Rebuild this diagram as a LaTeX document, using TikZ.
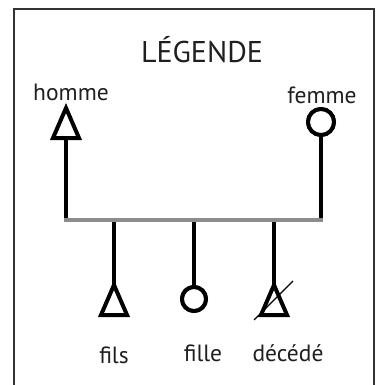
\documentclass[tikz,border=0pt]{standalone}
\usepackage{fontspec}
\setmainfont{PT Sans}
\begin{document}
\begin{tikzpicture}[x=1pt,y=-1pt,
  sym/.style={draw=black,line width=4pt,line join=miter,fill=white},
  circsym/.style={circle,draw=black,line width=4pt,fill=white,inner sep=0pt},
  link/.style={draw=black,line width=4pt},
  bar/.style={draw=black!45,line width=4pt},
  lbl/.style={anchor=base,inner sep=0pt,font=\fontsize{23.5}{23.5}\selectfont,text=black!88},
  ttl/.style={anchor=base,inner sep=0pt,font=\fontsize{30}{30}\selectfont,text=black!88},
  frame/.style={draw=black!80,line width=2.5pt}]
\useasboundingbox (0,0) rectangle (381,385);
% frame
\draw[frame] (14,395) -- (14,9) -- (374,9) -- (374,395);
% title
\node[ttl] (title) at (202,63) {LÉGENDE};
% coordinates
\coordinate (hApex) at (66,108);
\coordinate (hBase) at (66,138);
\coordinate (hJ) at (66,220);
\node[circsym,minimum size=26pt] (femme) at (321,122) {};
\coordinate (fJ) at (321,220);
\coordinate (c1) at (114,220);
\coordinate (c2) at (194,220);
\coordinate (c3) at (274,220);
\coordinate (filsApex) at (114,285);
\node[circsym,minimum size=24pt] (fille) at (194,299) {};
\coordinate (decApex) at (274,285);
% lines
\draw[link] (hBase) -- (hJ);
\draw[link] (femme.south) -- (fJ);
\draw[link] (c1) -- (filsApex);
\draw[link] (c2) -- (fille.north);
\draw[link] (c3) -- (decApex);
\draw[bar,line cap=butt] ([xshift=-2pt]hJ) -- ([xshift=2pt]fJ);
% redraw circles on top of links
\node[circsym,minimum size=26pt] at (femme) {};
\node[circsym,minimum size=24pt] at (fille) {};
% triangles
\draw[sym] (hApex) -- ++(13,30) -- ++(-26,0) -- cycle;
\draw[sym] (filsApex) -- ++(13,30) -- ++(-26,0) -- cycle;
\draw[sym] (decApex) -- ++(13,30) -- ++(-26,0) -- cycle;
\coordinate (sl1) at (254,320);
\coordinate (sl2) at (293,281);
\draw[black,line width=1.3pt] (sl1) -- (sl2);
% labels
\node[lbl] (lh) at (71,100) {homme};
\node[lbl] (lf) at (322,104) {femme};
\node[lbl] (l1) at (114,363) {fils};
\node[lbl] (l2) at (203,361) {fille};
\node[lbl] (l3) at (288,361) {décédé};
\end{tikzpicture}
\end{document}
